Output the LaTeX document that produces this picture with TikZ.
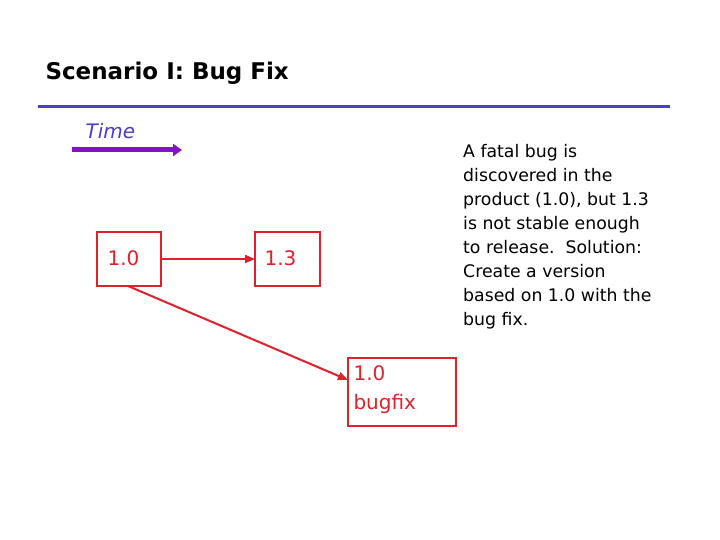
\documentclass[tikz,border=0pt]{standalone}
\usepackage{fontspec}
\setmainfont{DejaVu Sans}
\usetikzlibrary{arrows.meta}
\definecolor{vred}{HTML}{E0202A}
\definecolor{vblue}{HTML}{4A3FC8}
\definecolor{vpurp}{HTML}{8A10C8}
\begin{document}
\begin{tikzpicture}[x=1pt,y=-1pt,
  ver/.style={draw=vred,line width=2pt},
  con/.style={draw=vred,line width=2pt,-{Triangle[length=10pt,width=8pt]}}]
\useasboundingbox (0,0) rectangle (720,540);
\node[anchor=west,font=\bfseries\fontsize{23}{26}\selectfont] (title) at (42,73) {Scenario I: Bug Fix};
\draw[vblue,line width=3pt] (38,107) coordinate (l1) -- (670,107) coordinate (l2);
\node[anchor=west,text=vblue,font=\itshape\fontsize{20}{22}\selectfont] (time) at (82,131) {Time};
\coordinate (t1) at (72,150); \coordinate (t2) at (182,150);
\draw[vpurp,line width=5pt,-{Triangle[length=9pt,width=12pt]}] (t1) -- (t2);
\draw[ver] (97,232) rectangle (161,286);
\node[anchor=north west,text=vred,font=\fontsize{20}{22}\selectfont] (a) at (104,247) {1.0};
\coordinate (aE) at (161,259); \coordinate (aB) at (128,286);
\draw[ver] (255,232) rectangle (320,286);
\node[anchor=north west,text=vred,font=\fontsize{20}{22}\selectfont] (b) at (261,247) {1.3};
\coordinate (bW) at (255,259);
\draw[ver] (348,358) rectangle (456,426);
\node[anchor=north west,text=vred,align=left,font=\fontsize{20}{29}\selectfont] (c) at (350,362) {1.0\\bugfix};
\coordinate (cW) at (348,380);
\draw[con] (aE) -- (bW);
\draw[con] (aB) -- (cW);
\node[anchor=north west,align=left,inner sep=0pt,font=\fontsize{17.3}{24}\selectfont] (txt) at (463,144)
{A fatal bug is\\discovered in the\\product (1.0), but 1.3\\is not stable enough\\to release.\ \ Solution:\\Create a version\\based on 1.0 with the\\bug fix.};
\end{tikzpicture}
\end{document}
